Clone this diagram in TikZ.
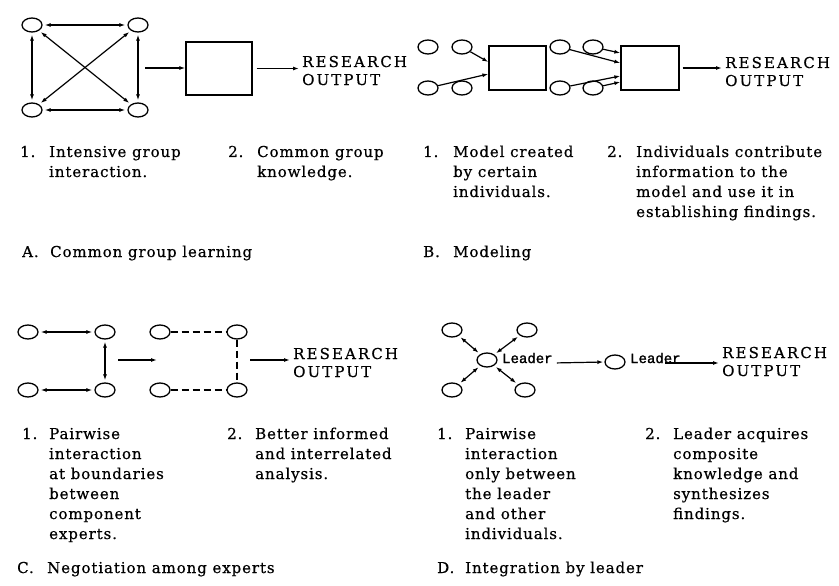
\documentclass[tikz,border=0pt]{standalone}
\usepackage{fontspec}
\setmainfont{DejaVu Serif}[LetterSpace=6,FakeBold=0.5]
\newfontfamily\resfam{DejaVu Serif}[LetterSpace=14,FakeBold=0.5]
\newfontfamily\monof{Liberation Mono}[FakeBold=1.5]
\usetikzlibrary{arrows.meta,shapes.geometric}
\newcommand\bodyf{\fontsize{15}{20}\selectfont}
\newcommand\resf{\resfam\fontsize{15}{18}\selectfont}
\tikzset{
 circ/.style={draw, ellipse, minimum width=20pt, minimum height=14pt, inner sep=0pt, line width=1.3pt},
 boxn/.style={draw, rectangle, inner sep=0pt, line width=1.3pt},
 conn/.style={line width=1.2pt, -{Latex[length=6pt,width=4pt]}},
 dconn/.style={line width=1.2pt, {Latex[length=6pt,width=4pt]}-{Latex[length=6pt,width=4pt]}, shorten <=2pt, shorten >=2pt},
 dline/.style={line width=1.2pt, dash pattern=on 7pt off 4pt},
 txt/.style={inner sep=0pt, anchor=base west, font=\bodyf},
 res/.style={inner sep=0pt, anchor=base west, font=\resf},
 lead/.style={inner sep=0pt, anchor=base west, font=\monof\fontsize{14}{16}\selectfont},
}
\begin{document}
\begin{tikzpicture}[x=1pt,y=-1pt]
\fill[white] (0,0) rectangle (839,586);
\useasboundingbox (0,0) rectangle (839,586);
% ---------------- Panel A
\node[circ] (a1) at (32,25) {};
\node[circ] (a2) at (138,25) {};
\node[circ] (a3) at (32,110) {};
\node[circ] (a4) at (138,110) {};
\draw[dconn] (a1) -- (a2);
\draw[dconn] (a3) -- (a4);
\draw[dconn] (a1) -- (a3);
\draw[dconn] (a2) -- (a4);
\draw[dconn] (a1) -- (a4);
\draw[dconn] (a2) -- (a3);
\node[boxn, minimum width=66pt, minimum height=53pt] (A) at (219,68.5) {};
\coordinate (ain) at (145,68);
\draw[conn] (ain) -- (ain -| A.west);
\node[res] (ra) at (302,67) {\parbox[t]{120pt}{RESEARCH\\OUTPUT}};
\draw[conn, shorten <=4pt, shorten >=3pt] (A.east) -- (A.east -| ra.west);
% ---------------- Panel B
\node[circ] (b1) at (428,47) {};
\node[circ] (b2) at (462,47) {};
\node[circ] (b3) at (428,88) {};
\node[circ] (b4) at (462,88) {};
\node[boxn, minimum width=57pt, minimum height=44pt] (B1) at (517.5,68) {};
\draw[conn] (b2) -- ([yshift=6pt]B1.west);
\draw[conn] (b3) -- ([yshift=-6pt]B1.west);
\node[circ] (b5) at (560,47) {};
\node[circ] (b6) at (593,47) {};
\node[circ] (b7) at (560,88) {};
\node[circ] (b8) at (593,88) {};
\node[boxn, minimum width=58pt, minimum height=44pt] (B2) at (650,68) {};
\draw[conn] (b5) -- ([yshift=5pt]B2.west);
\draw[conn] (b6) -- ([yshift=15pt]B2.west);
\draw[conn] (b7) -- ([yshift=-8pt]B2.west);
\draw[conn] (b8) -- ([yshift=-14pt]B2.west);
\node[res] (rb) at (725,68) {\parbox[t]{120pt}{RESEARCH\\OUTPUT}};
\draw[conn, shorten <=3pt, shorten >=3pt] (B2.east) -- (B2.east -| rb.west);
% ---------------- Panel C
\node[circ] (c1) at (28,332) {};
\node[circ] (c2) at (105,332) {};
\node[circ] (c3) at (28,390) {};
\node[circ] (c4) at (105,390) {};
\draw[dconn] (c1) -- (c2);
\draw[dconn] (c3) -- (c4);
\draw[dconn] (c2) -- (c4);
\coordinate (cs) at (118,360);
\coordinate (ce) at (157,360);
\draw[conn] (cs) -- (ce);
\node[circ] (c5) at (160,332) {};
\node[circ] (c6) at (237,332) {};
\node[circ] (c7) at (160,390) {};
\node[circ] (c8) at (237,390) {};
\draw[dline] (c5) -- (c6);
\draw[dline] (c6) -- (c8);
\draw[dline] (c7) -- (c8);
\coordinate (cs2) at (250,360);
\node[res] (rc) at (293,359) {\parbox[t]{120pt}{RESEARCH\\OUTPUT}};
\draw[conn, shorten >=3pt] (cs2) -- (cs2 -| rc.west);
% ---------------- Panel D
\node[circ] (dc) at (487,360) {};
\node[circ] (d1) at (452,330) {};
\node[circ] (d2) at (527,330) {};
\node[circ] (d3) at (452,390) {};
\node[circ] (d4) at (525,390) {};
\draw[dconn] (dc) -- (d1);
\draw[dconn] (dc) -- (d2);
\draw[dconn] (dc) -- (d3);
\draw[dconn] (dc) -- (d4);
\node[lead] (L1) at (502,363) {Leader};
\node[circ] (d5) at (615,362) {};
\draw[conn, shorten <=4pt, shorten >=1pt] (L1.base east) -- (d5.west);
\node[lead] (L2) at (630,363) {Leader};
\coordinate (ls) at (665,363);
\node[res] (rd) at (722,358) {\parbox[t]{120pt}{RESEARCH\\OUTPUT}};
\draw[conn, shorten >=3pt] (ls) -- (ls -| rd.west);
% ---------------- Texts A
\node[txt] (ta1n) at (20,157) {1.};
\node[txt] (ta1) at (49,157) {\parbox[t]{170pt}{Intensive group\\interaction.}};
\node[txt] (ta2n) at (228,157) {2.};
\node[txt] (ta2) at (257,157) {\parbox[t]{170pt}{Common group\\knowledge.}};
\node[txt] (tan) at (22,257) {A.};
\node[txt] (ta) at (50,257) {Common group learning};
% ---------------- Texts B
\node[txt] (tb1n) at (423,157) {1.};
\node[txt] (tb1) at (453,157) {\parbox[t]{170pt}{Model created\\by certain\\individuals.}};
\node[txt] (tb2n) at (607,157) {2.};
\node[txt] (tb2) at (636,157) {\parbox[t]{200pt}{Individuals contribute\\information to the\\model and use it in\\establishing findings.}};
\node[txt] (tbn) at (423,257) {B.};
\node[txt] (tb) at (453,257) {Modeling};
% ---------------- Texts C
\node[txt] (tc1n) at (22,439) {1.};
\node[txt] (tc1) at (49,439) {\parbox[t]{170pt}{Pairwise\\interaction\\at boundaries\\between\\component\\experts.}};
\node[txt] (tc2n) at (227,439) {2.};
\node[txt] (tc2) at (255,439) {\parbox[t]{170pt}{Better informed\\and interrelated\\analysis.}};
\node[txt] (tcn) at (17,573) {C.};
\node[txt] (tc) at (47,573) {Negotiation among experts};
% ---------------- Texts D
\node[txt] (td1n) at (437,439) {1.};
\node[txt] (td1) at (465,439) {\parbox[t]{170pt}{Pairwise\\interaction\\only between\\the leader\\and other\\individuals.}};
\node[txt] (td2n) at (645,439) {2.};
\node[txt] (td2) at (673,439) {\parbox[t]{170pt}{Leader acquires\\composite\\knowledge and\\synthesizes\\findings.}};
\node[txt] (tdn) at (437,573) {D.};
\node[txt] (td) at (465,573) {Integration by leader};
\end{tikzpicture}
\end{document}
